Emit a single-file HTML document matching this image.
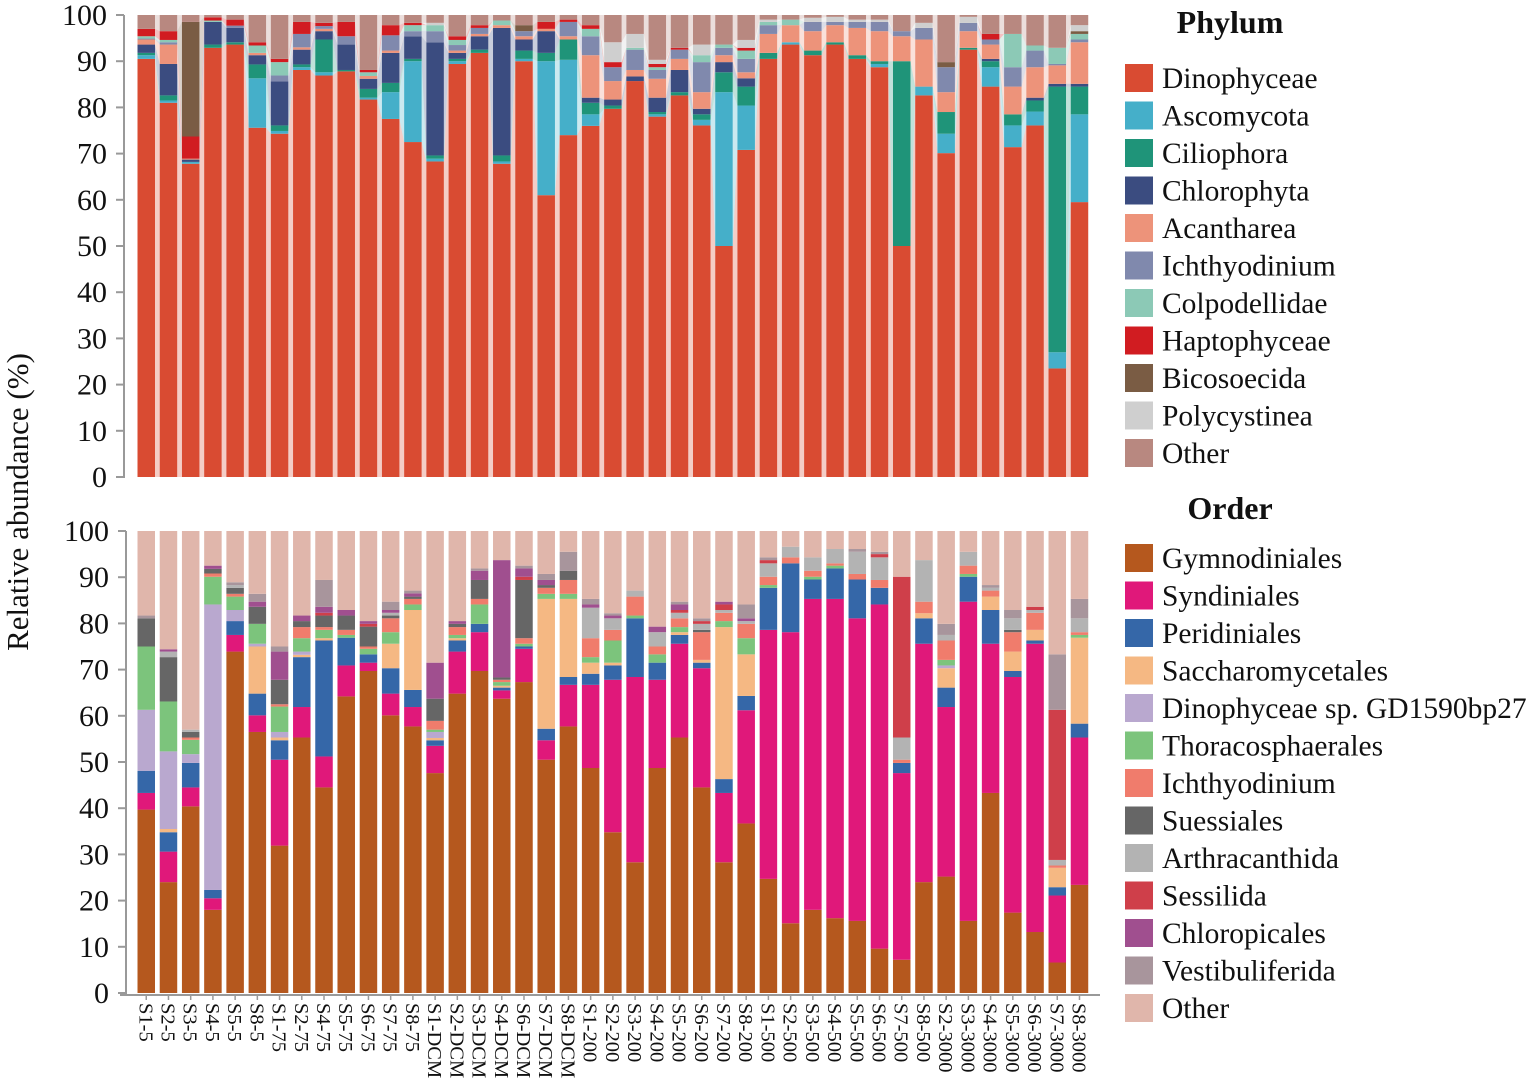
<!DOCTYPE html>
<html><head><meta charset="utf-8">
<style>
html,body{margin:0;padding:0;background:#fff;}
svg{display:block;font-family:"Liberation Serif",serif;}
</style></head>
<body>
<svg id="chart" width="1535" height="1088" viewBox="0 0 1535 1088" xmlns="http://www.w3.org/2000/svg">
<g id="top"></g>
<g id="bot"></g>
<g id="axes"></g>
<g id="legend"></g>
<text x="0" y="0" transform="translate(28,502) rotate(-90)" text-anchor="middle" font-size="31" fill="#111">Relative abundance (%)</text>
</svg>
<script>
const samples = ["S1-5","S2-5","S3-5","S4-5","S5-5","S8-5","S1-75","S2-75","S4-75","S5-75","S6-75","S7-75","S8-75","S1-DCM","S2-DCM","S3-DCM","S4-DCM","S6-DCM","S7-DCM","S8-DCM","S1-200","S2-200","S3-200","S4-200","S5-200","S6-200","S7-200","S8-200","S1-500","S2-500","S3-500","S4-500","S5-500","S6-500","S7-500","S8-500","S2-3000","S3-3000","S4-3000","S5-3000","S6-3000","S7-3000","S8-3000"];
const yTicks = [0,10,20,30,40,50,60,70,80,90,100];

const phylumNames = ["Dinophyceae","Ascomycota","Ciliophora","Chlorophyta","Acantharea","Ichthyodinium","Colpodellidae","Haptophyceae","Bicosoecida","Polycystinea","Other"];
const phylumColors = ["#d94b32","#45afc9","#1f9479","#3b4c80","#ed937a","#8089ad","#8cc9b6","#d11c21","#7a5c44","#cfcfcf","#b88880"];
const phylumData = [
[90.5,.8,.5,1.8,1.1,.2,.5,1.6,0,0,3.0],
[81,.5,1.1,6.8,4.2,.5,.5,1.9,0,0,3.5],
[67.8,.4,0,.5,.2,0,0,4.8,24.8,0,1.5],
[92.9,0,.7,4.9,0,0,.3,.7,0,0,.5],
[93.6,0,.5,3.1,0,.5,0,1.3,0,0,1.0],
[75.6,10.7,3,2,.5,0,1.6,.7,0,0,5.9],
[74.3,.6,1.2,9.5,0,1.3,2.9,.7,0,0,9.5],
[88.1,.6,.6,3.2,.5,2.9,0,2.6,0,0,1.5],
[86.9,.7,7.1,1.8,.5,.6,0,.7,0,0,1.7],
[87.8,0,.3,5.5,0,1.8,0,3.1,0,0,1.5],
[81.7,.4,1.9,2.2,.6,0,.8,.5,0,0,11.9],
[77.5,5.8,2,6.5,.5,3.3,0,2.2,0,0,2.2],
[72.5,17.5,.5,4.9,0,1.1,1.3,.5,0,0,1.7],
[68.3,.6,.7,24.5,0,2.4,1.3,0,0,.5,1.7],
[89.4,.6,.5,1.3,.5,1.2,1.1,.8,0,0,4.6],
[91.8,0,.7,2.9,.5,1.3,0,.6,0,0,2.2],
[67.8,.5,1.3,27.6,.6,0,1,0,0,0,1.2],
[90,.5,1.8,2.4,.7,1.1,0,0,1.3,0,2.2],
[61,29,1.8,4.7,.5,0,0,1.5,0,0,1.5],
[74,16.3,4.4,0,.7,3.1,0,.5,0,0,1],
[76,2.5,2.5,1.1,9.2,4.1,1.6,.8,0,0,2.2],
[79.7,0,.7,1.3,4,3,0,1.1,0,4.3,5.9],
[85.7,0,0,1,1.4,4.4,.4,0,0,3,4.1],
[78,.5,.5,3.1,4.1,1.9,.6,.7,0,.9,9.7],
[82.6,0,.7,4.8,2.4,2,0,.4,0,0,7.1],
[76.1,1.2,1.2,1.2,3.6,6.5,1.5,0,0,2.3,6.4],
[50,33.3,4.3,2.2,1.5,1.6,.7,0,0,0,6.4],
[70.8,9.6,4.1,1.8,1.3,2.9,1.8,.6,0,1.7,5.4],
[90.5,0,1.3,0,4.1,1.9,.7,0,0,.5,1],
[93.6,.5,0,0,3.7,0,1.2,0,0,0,1],
[91.3,0,1,0,4.2,2,0,0,0,.9,.6],
[93.6,0,.5,0,3.7,.7,0,0,0,1.1,.4],
[90.5,0,.8,0,5.9,1.3,0,0,0,.5,1],
[88.7,.7,.6,0,6.5,2,0,0,0,.5,1],
[50,0,40,0,5.4,1.1,0,0,0,0,3.5],
[82.6,1.9,0,0,10.2,2.5,0,0,0,1.1,1.7],
[70.1,4.2,4.7,0,4.3,5.4,0,0,1.1,0,10.2],
[92.5,0,.4,0,3.6,1.8,0,0,0,1.3,.4],
[84.5,4.2,1.3,.5,3.1,1.1,0,1.2,0,0,4.1],
[71.4,4.7,2.4,0,6,4.2,7.2,0,0,0,4.1],
[76.1,3,2.4,.6,6.6,3.6,1.1,0,0,0,6.6],
[23.5,3.5,57.5,.6,4,.3,3.5,0,0,0,7.1],
[59.5,19,6,.6,9,.6,1.2,0,.6,1.3,2.2]
];

const orderNames = ["Gymnodiniales","Syndiniales","Peridiniales","Saccharomycetales","Dinophyceae sp. GD1590bp27","Thoracosphaerales","Ichthyodinium","Suessiales","Arthracanthida","Sessilida","Chloropicales","Vestibuliferida","Other"];
const orderColors = ["#b5581e","#e0187a","#3567a8","#f5b883","#b9a8cf","#7cc47c","#f07c6c","#666666","#b3b3b3","#cf3f4a","#a04f8f","#a8959c","#e0b6ab"];
const orderData = [
[39.7,3.6,4.8,0,13.2,13.7,0,6.1,0,0,0,.6,18.3],
[24,6.6,4.2,.7,16.8,10.8,0,9.6,1.2,0,.5,0,25.6],
[40.4,4.1,5.3,0,1.9,3.1,.5,1.2,.5,0,0,0,43],
[18,2.5,1.8,0,61.8,6,.7,1,0,0,.7,0,7.5],
[73.9,3.6,3,0,2.4,2.9,.6,1.3,.6,0,0,.6,11.1],
[56.5,3.6,4.7,10.2,.6,4.3,0,3.7,0,0,1.1,1.7,13.6],
[31.9,18.6,4.2,.6,1.2,5.5,.5,5.3,0,0,6.1,1.1,25],
[55.3,6.6,10.8,.5,.7,2.9,2.4,1.3,0,0,1.2,0,18.3],
[44.5,6.7,25.1,.5,0,1.8,.6,2.5,0,.6,1.3,5.8,10.6],
[64.2,6.7,6,0,0,.6,1.1,3.1,0,0,1.2,0,17.1],
[69.7,1.8,1.8,0,0,1.2,.5,4.3,0,.6,.6,0,19.5],
[60.1,4.7,5.5,5.3,0,2.5,3,.6,.6,0,.6,1.8,15.3],
[57.7,4.2,3.7,17.3,0,1.2,1.2,.5,0,0,.7,.6,12.9],
[47.6,5.9,1.2,.5,1.3,.5,1.9,4.8,0,0,7.8,0,28.5],
[64.8,9.1,2.4,.5,0,.7,1.7,.7,0,0,.6,0,19.5],
[69.7,8.4,1.8,0,0,4.2,1.2,4.1,0,0,2,.5,8.1],
[63.7,1.8,.6,.4,0,.8,.5,.5,0,0,25.4,0,6.3],
[67.3,7.2,.5,0,0,.6,1.2,12.6,0,.7,1.8,.6,7.5],
[50.5,4.2,2.5,28.1,0,1.1,1.3,.6,0,0,1.1,1.3,9.3],
[57.7,9,1.7,16.9,0,1.1,3,2,0,0,0,4.1,4.5],
[48.7,18,2.4,2.4,0,1.2,4.1,0,6.6,0,.7,1.2,14.7],
[34.8,33,3.1,.6,0,4.8,2.3,0,2.5,0,.6,.5,17.8],
[28.3,40.1,12.7,0,0,.6,4.1,0,1.3,0,0,0,12.9],
[48.7,19.1,3.7,0,0,1.8,1.7,0,3.1,0,1.2,0,20.7],
[55.3,20.3,1.9,.6,0,1.1,1.9,0,1.2,.6,1.2,.6,15.3],
[44.5,25.8,1.2,.6,0,0,6,.5,1.3,.6,0,.6,18.9],
[28.3,15,3,32.9,0,1.3,1.8,0,.6,1.2,.6,0,15.3],
[36.7,24.5,3.1,9,0,3.5,3.1,0,.6,0,.6,3,15.9],
[24.7,53.9,9.1,0,0,.6,1.8,0,2.9,.7,0,.6,5.7],
[15.1,63,14.9,0,0,0,1.3,0,2.3,0,0,0,3.4],
[18,67.3,4.2,0,0,.6,1.3,0,2.9,0,0,0,5.7],
[16.2,69.1,6.6,0,0,.6,.5,0,3.1,0,0,0,3.9],
[15.6,65.5,8.4,0,0,0,1.2,0,4.8,0,0,.6,3.9],
[9.6,74.5,3.6,0,0,0,1.7,0,4.9,.7,0,.5,4.5],
[7.2,40.4,2.2,0,0,0,.7,0,4.8,34.8,0,0,9.9],
[24,51.6,5.5,1.1,0,0,2.5,0,9,0,0,0,6.3],
[25.2,36.7,4.2,4.2,.6,1.2,4.2,0,1.2,0,0,2.4,20.1],
[15.6,69.1,5.4,0,0,.6,1.8,0,3,0,0,0,4.5],
[43.3,32.3,7.3,2.9,0,0,1.3,0,.6,0,0,.6,11.7],
[17.4,51,1.3,4.2,0,0,4.2,.5,2.5,0,0,1.8,17.1],
[13.2,62.4,.7,2.3,0,0,3.7,0,.6,.7,0,0,16.4],
[6.6,14.5,1.8,4.2,0,0,.5,0,1.2,32.5,0,12,26.7],
[23.4,31.9,3,18.6,0,.6,.6,0,3,0,0,4.2,14.7]
];

const NS = "http://www.w3.org/2000/svg";
const X0 = 137.5, STEP = 22.22, BW = 17.5, PXU = 4.62;
function xLeft(i){ return X0 + STEP*i; }
function yTopPanel(v){ return 477 - v*PXU; }
function yBotPanel(v){ return 993 - v*PXU; }
function mk(tag, attrs, parent){
  const e = document.createElementNS(NS, tag);
  for (const k in attrs) e.setAttribute(k, attrs[k]);
  parent.appendChild(e); return e;
}
function cumul(row){
  const s = row.reduce((a,b)=>a+b,0) || 1;
  const out = [0]; let c = 0;
  row.forEach(v => { c += v*100/s; out.push(c); });
  return out;
}

const gTop = document.getElementById('top');
const topCum = phylumData.map(cumul);
for (let i=0;i<samples.length-1;i++){
  const a = topCum[i], b = topCum[i+1];
  const x1 = xLeft(i)+BW, x2 = xLeft(i+1);
  for (let k=0;k<phylumNames.length;k++){
    if (a[k+1]-a[k] <= 0 && b[k+1]-b[k] <= 0) continue;
    const p = mk('polygon', {points:`${x1},${yTopPanel(a[k])} ${x2},${yTopPanel(b[k])} ${x2},${yTopPanel(b[k+1])} ${x1},${yTopPanel(a[k+1])}`, fill:phylumColors[k], 'fill-opacity':0.28}, gTop);
    
    
  }
}
for (let i=0;i<samples.length;i++){
  const c = topCum[i];
  for (let k=0;k<phylumNames.length;k++){
    const h = (c[k+1]-c[k])*PXU;
    if (h<=0) continue;
    const r = mk('rect', {x:xLeft(i), y:yTopPanel(c[k+1]), width:BW, height:h, fill:phylumColors[k]}, gTop);
    
    
  }
}

const gBot = document.getElementById('bot');
const botCum = orderData.map(cumul);
for (let i=0;i<samples.length;i++){
  const c = botCum[i];
  for (let k=0;k<orderNames.length;k++){
    const h = (c[k+1]-c[k])*PXU;
    if (h<=0) continue;
    const r = mk('rect', {x:xLeft(i), y:yBotPanel(c[k+1]), width:BW, height:h, fill:orderColors[k]}, gBot);
    
    
  }
}

const gAx = document.getElementById('axes');
mk('line',{x1:124,y1:15,x2:124,y2:478,stroke:'#999','stroke-width':2},gAx);
mk('line',{x1:126,y1:531,x2:126,y2:995,stroke:'#999','stroke-width':2},gAx);
mk('line',{x1:120,y1:995,x2:1100,y2:995,stroke:'#999','stroke-width':2},gAx);
yTicks.forEach(v=>{
  mk('line',{x1:116,y1:yTopPanel(v),x2:124,y2:yTopPanel(v),stroke:'#999','stroke-width':2},gAx);
  const t1 = mk('text',{x:107,y:yTopPanel(v)+10,'text-anchor':'end','font-size':30,fill:'#111'},gAx);
  t1.textContent = v;
  
  
  mk('line',{x1:118,y1:yBotPanel(v),x2:126,y2:yBotPanel(v),stroke:'#999','stroke-width':2},gAx);
  const t2 = mk('text',{x:109,y:yBotPanel(v)+10,'text-anchor':'end','font-size':30,fill:'#111'},gAx);
  t2.textContent = v;
  
  
});
samples.forEach((s,i)=>{
  const cx = xLeft(i)+BW/2;
  mk('line',{x1:cx,y1:995,x2:cx,y2:1000,stroke:'#999','stroke-width':1.5},gAx);
  const t = mk('text',{x:0,y:0,transform:`translate(${cx-7},1003) rotate(90)`,'font-size':20.5,fill:'#111'},gAx);
  t.textContent = s;
  
  
});

const gL = document.getElementById('legend');
function legend(title, ty, names, colors, y0){
  const tt = mk('text',{x:1230,y:ty,'text-anchor':'middle','font-size':32,'font-weight':'bold',fill:'#111'},gL);
  tt.textContent = title;
  
  
  names.forEach((n,k)=>{
    const y = y0 + 37.5*k;
    const r = mk('rect',{x:1125,y:y-14,width:28,height:28,fill:colors[k]},gL);
    
    
    const t = mk('text',{x:1162,y:y+10,'font-size':29.5,fill:'#111'},gL);
    t.textContent = n;
    
    
  });
}
legend('Phylum', 33, phylumNames, phylumColors, 78);
legend('Order', 519, orderNames, orderColors, 558);
</script>
</body></html>
